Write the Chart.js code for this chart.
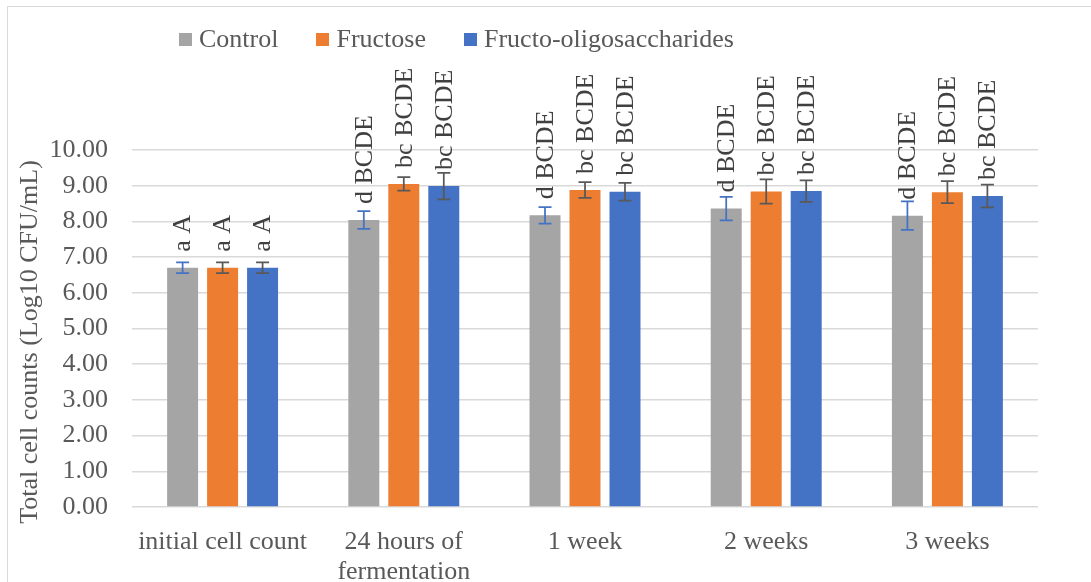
<!DOCTYPE html>
<html>
<head>
<meta charset="utf-8">
<script src="https://cdn.jsdelivr.net/npm/chart.js@4"></script>
<style>
    html, body { margin: 0; padding: 0; background: #fff; overflow: hidden; }
    #wrap { position: relative; width: 1091px; height: 582px; }
    #frame {
        position: absolute; left: 7px; top: 6px; width: 1200px; height: 700px;
        border: 1.5px solid #d9d9d9; box-sizing: border-box; pointer-events: none;
    }
    #legend {
        position: absolute; left: 179px; top: 24px; display: flex; align-items: center;
        font-family: "Liberation Serif", "Times New Roman", serif; font-size: 26px; color: #595959;
    }
    #legend .item { display: flex; align-items: center; margin-right: 38px; }
    #legend .box { width: 13px; height: 13px; margin-right: 7px; }
</style>
</head>
<body>
<div id="wrap">
    <canvas id="cellChart" width="1091" height="582"></canvas>
    <div id="frame"></div>
    <div id="legend"></div>
</div>
<script>
// Categories and series
const categories = ["initial cell count", ["24 hours of", "fermentation"], "1 week", "2 weeks", "3 weeks"];
const seriesNames = ["Control", "Fructose", "Fructo-oligosaccharides"];
const seriesColors = ["#A5A5A5", "#ED7D31", "#4472C4"];

const controlValues = [6.70, 8.04, 8.17, 8.36, 8.16];
const fructoseValues = [6.70, 9.05, 8.88, 8.84, 8.82];
const fosValues = [6.70, 8.99, 8.83, 8.85, 8.71];

const controlErrors = [0.15, 0.25, 0.23, 0.33, 0.40];
const fructoseErrors = [0.15, 0.19, 0.22, 0.34, 0.31];
const fosErrors = [0.15, 0.37, 0.25, 0.30, 0.32];

const controlLabels = ["a A", "d BCDE", "d BCDE", "d BCDE", "d BCDE"];
const fructoseLabels = ["a A", "bc BCDE", "bc BCDE", "bc BCDE", "bc BCDE"];
const fosLabels = ["a A", "bc BCDE", "bc BCDE", "bc BCDE", "bc BCDE"];

const yTicks = [0, 1, 2, 3, 4, 5, 6, 7, 8, 9, 10];
const yTitle = "Total cell counts (Log10 CFU/mL)";

const errorSets = [controlErrors, fructoseErrors, fosErrors];
const labelSets = [controlLabels, fructoseLabels, fosLabels];
const errorColors = ["#4472C4", "#595959", "#595959"];

const serif = "'Liberation Serif', 'Times New Roman', serif";

// Error bars + rotated letter labels + axis title
const annotatePlugin = {
    id: "annotate",
    afterDatasetsDraw(chart) {
        const ctx = chart.ctx;
        const yScale = chart.scales.y;
        chart.data.datasets.forEach((ds, i) => {
            const meta = chart.getDatasetMeta(i);
            meta.data.forEach((bar, j) => {
                const v = ds.data[j];
                const e = errorSets[i][j];
                const yTop = yScale.getPixelForValue(v + e);
                const yBot = yScale.getPixelForValue(v - e);
                ctx.save();
                ctx.strokeStyle = errorColors[i];
                ctx.lineWidth = 1.75;
                ctx.beginPath();
                ctx.moveTo(bar.x, yTop);
                ctx.lineTo(bar.x, yBot);
                ctx.moveTo(bar.x - 6.5, yTop);
                ctx.lineTo(bar.x + 6.5, yTop);
                ctx.moveTo(bar.x - 6.5, yBot);
                ctx.lineTo(bar.x + 6.5, yBot);
                ctx.stroke();

                ctx.translate(bar.x, bar.y - 16);
                ctx.rotate(-Math.PI / 2);
                ctx.fillStyle = "#404040";
                ctx.font = "26px " + serif;
                ctx.textAlign = "left";
                ctx.textBaseline = "middle";
                ctx.fillText(labelSets[i][j], 0, 1);
                ctx.restore();
            });
        });

        // y axis title, centred a bit lower than the plot like the original
        ctx.save();
        ctx.translate(30, 342);
        ctx.rotate(-Math.PI / 2);
        ctx.fillStyle = "#595959";
        ctx.font = "26px " + serif;
        ctx.textAlign = "center";
        ctx.textBaseline = "middle";
        ctx.fillText(yTitle, 0, 0);
        ctx.restore();
    }
};

// HTML legend
const legendEl = document.getElementById("legend");
seriesNames.forEach((name, i) => {
    legendEl.innerHTML += `<span class="item"><span class="box" style="background:${seriesColors[i]}"></span>${name}</span>`;
});

new Chart(document.getElementById("cellChart"), {
    type: "bar",
    data: {
        labels: categories,
        datasets: [
            { label: seriesNames[0], data: controlValues, backgroundColor: seriesColors[0] },
            { label: seriesNames[1], data: fructoseValues, backgroundColor: seriesColors[1] },
            { label: seriesNames[2], data: fosValues, backgroundColor: seriesColors[2] }
        ]
    },
    options: {
        responsive: false,
        animation: false,
        layout: { padding: { top: 150, left: 0, right: 53, bottom: 0 } },
        datasets: {
            bar: { categoryPercentage: 0.662, barPercentage: 0.775 }
        },
        plugins: {
            legend: { display: false },
            tooltip: { enabled: false }
        },
        scales: {
            x: {
                grid: { display: false },
                border: { display: false },
                ticks: {
                    color: "#595959",
                    padding: 12,
                    maxRotation: 0,
                    autoSkip: false,
                    font: { family: serif, size: 26, lineHeight: 1.15 }
                },
                afterFit(scale) { scale.height = 75; }
            },
            y: {
                min: 0,
                max: 10,
                afterBuildTicks(scale) { scale.ticks = yTicks.map(v => ({ value: v })); },
                grid: { color: "#d9d9d9", lineWidth: 1.5, drawTicks: false },
                border: { display: false },
                ticks: {
                    color: "#595959",
                    padding: 24,
                    font: { family: serif, size: 26 },
                    callback: v => v.toFixed(2)
                },
                afterFit(scale) { scale.width = 132; }
            }
        }
    },
    plugins: [annotatePlugin]
});
</script>
</body>
</html>
